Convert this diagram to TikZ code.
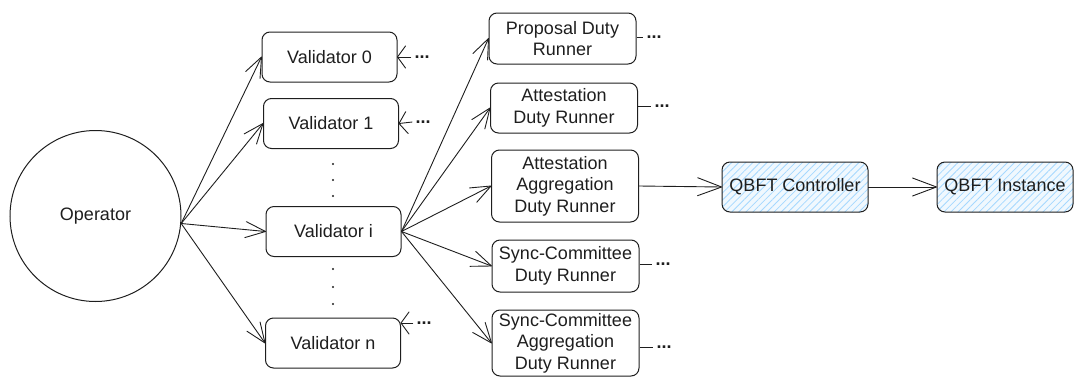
\documentclass[tikz,border=0pt]{standalone}
\usepackage{fontspec}
\setmainfont{Liberation Sans}
\usetikzlibrary{arrows.meta,patterns.meta}
\definecolor{ink}{HTML}{1E1E1E}
\definecolor{hatch}{HTML}{A5D8FF}
\definecolor{tint}{HTML}{F0F8FE}
% open two-stroke arrow head with straight barbs
\pgfdeclarearrow{
  name = Sketch,
  parameters = {\the\pgfarrowlength,\the\pgfarrowwidth},
  setup code = {
    \pgfarrowssettipend{0pt}
    \pgfarrowssetbackend{-\pgfarrowlength}
    \pgfarrowssetlineend{-0.5\pgflinewidth}
    \pgfarrowssavethe\pgfarrowlength
    \pgfarrowssavethe\pgfarrowwidth
  },
  drawing code = {
    \pgfsetroundjoin
    \pgfsetroundcap
    \pgfpathmoveto{\pgfqpoint{-\pgfarrowlength}{.5\pgfarrowwidth}}
    \pgfpathlineto{\pgforigin}
    \pgfpathlineto{\pgfqpoint{-\pgfarrowlength}{-.5\pgfarrowwidth}}
    \pgfusepathqstroke
  },
  defaults = {length=20pt, width=16pt}
}
\begin{document}
\begin{tikzpicture}[x=1pt,y=-1pt,
  every node/.style={font=\fontsize{18}{21.5}\selectfont, text=ink},
  box/.style={draw=ink, line width=1pt, rounded corners=8pt, align=center, inner sep=0pt},
  vbox/.style={box, minimum width=135pt, minimum height=50pt},
  rbox/.style={box, minimum width=147pt},
  qbox/.style={box, minimum height=50pt, preaction={fill=tint},
    pattern={Lines[angle=45,distance=5pt,line width=0.8pt]}, pattern color=hatch},
  dotmark/.style={fill=ink, circle, inner sep=0pt, minimum size=2.4pt},
  more/.style={inner sep=3pt, font=\fontsize{18}{21.5}\selectfont\bfseries},
  link/.style={draw=ink, line width=0.9pt},
  arr/.style={link, -{Sketch[length=20pt,width=16pt]}},
  sarr/.style={link, -{Sketch[length=8pt,width=22pt]}},
  barr/.style={link, -{Sketch[length=24pt,width=18pt]}}
]
\useasboundingbox (0,0) rectangle (1076,378);

% operator
\node[draw=ink, circle, line width=1pt, minimum size=171pt] (op) at (95.5,216) {Operator};

% validators
\node[vbox] (v0) at (329.5,57) {Validator 0};
\node[vbox] (v1) at (331,123.5) {Validator 1};
\node[vbox] (vi) at (333.5,231.5) {Validator i};
\node[vbox] (vn) at (333,343) {Validator n};

% elided validators
\node[dotmark] (d1) at (333,164) {};
\node[dotmark] (d2) at (333,180) {};
\node[dotmark] (d3) at (333,196) {};
\node[dotmark] (d4) at (333,269) {};
\node[dotmark] (d5) at (333,287) {};
\node[dotmark] (d6) at (333,304) {};

% duty runners
\node[rbox, minimum height=51pt] (r1) at (562.5,38.5) {Proposal Duty\\Runner};
\node[rbox, minimum height=50pt] (r2) at (564,108) {Attestation\\Duty Runner};
\node[rbox, minimum height=72pt] (r3) at (565,186) {Attestation\\Aggregation\\Duty Runner};
\node[rbox, minimum height=52pt] (r4) at (565.5,266) {Sync-Committee\\Duty Runner};
\node[rbox, minimum height=66pt] (r5) at (565.5,343) {Sync-Committee\\Aggregation\\Duty Runner};

% QBFT
\node[qbox, minimum width=146pt] (qc) at (795,187) {QBFT Controller};
\node[qbox, minimum width=136pt] (qi) at (1005,187) {QBFT Instance};

% ellipses
\node[more] (e0) at (422,57) {...};
\node[more] (e1) at (423,122) {...};
\node[more] (en) at (424,323) {...};
\node[more] (f1) at (654,37) {...};
\node[more] (f2) at (662,106) {...};
\node[more] (f4) at (663,264) {...};
\node[more] (f5) at (664,347) {...};

% operator to validators
\draw[arr] (op.-5) -- (v0.west);
\draw[arr] (op.-5) -- (v1.west);
\draw[arr] (op.-5) -- (vi.west);
\draw[arr] (op.-5) -- (vn.west);

% incoming from elsewhere
\draw[sarr] (e0.west) -- (v0.east);
\draw[sarr] (e1.west) -- (v1.east);
\draw[sarr] (en.west) -- (vn.east |- en.west);

% validator i to runners
\draw[arr] (vi.east) -- (r1.west);
\draw[arr] (vi.east) -- (r2.west);
\draw[arr] (vi.east) -- (r3.west);
\draw[arr] (vi.east) -- (r4.west);
\draw[arr] (vi.east) -- (r5.west);

% runner continuations
\draw[link] (r1.east |- f1.west) -- (f1.west);
\draw[link] (r2.east |- f2.west) -- (f2.west);
\draw[link] (r4.east |- f4.west) -- (f4.west);
\draw[link] (r5.east |- f5.west) -- (f5.west);

% consensus chain
\draw[barr] (r3.east) -- (qc.west);
\draw[barr] (qc.east) -- (qi.west);
\end{tikzpicture}
\end{document}
